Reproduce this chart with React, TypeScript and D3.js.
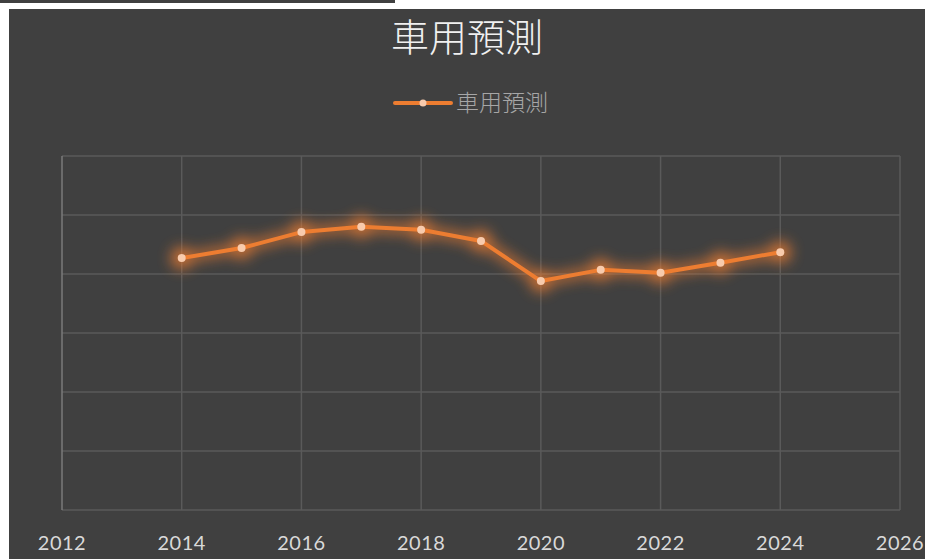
import React from "react";
import * as d3 from "d3";

// 車用預測 — yearly forecast values (y axis labels hidden)
const years = [2014, 2015, 2016, 2017, 2018, 2019, 2020, 2021, 2022, 2023, 2024];
const forecast = [427, 444, 471, 480, 475, 456, 388, 407, 402, 419, 437];
const xTicks = [2012, 2014, 2016, 2018, 2020, 2022, 2024, 2026];
const yTicks = [0, 100, 200, 300, 400, 500, 600];
const title = "車用預測";

const W = 925;
const H = 559;
const plot = { left: 62, right: 900, top: 156, bottom: 510 };

const App = () => {
  const x = d3.scaleLinear().domain([2012, 2026]).range([plot.left, plot.right]);
  const y = d3.scaleLinear().domain([0, 600]).range([plot.bottom, plot.top]);
  const pts: [number, number][] = years.map((yr, i) => [yr, forecast[i]]);
  const line = d3
    .line<[number, number]>()
    .x(d => x(d[0]))
    .y(d => y(d[1]));
  const path = line(pts) || "";

  return (
    <svg width={W} height={H} style={{ position: "absolute", left: 0, top: 0 }}>
      <defs>
        <filter id="glow" x="-20%" y="-80%" width="140%" height="260%">
          <feGaussianBlur stdDeviation="7" />
        </filter>
      </defs>
      <rect width={W} height={H} fill="#ffffff" />
      <rect x={0} y={0} width={395} height={3} fill="#404040" />
      <rect x={9} y={9} width={W - 9} height={H - 9} fill="#404040" />

      <text
        x={467}
        y={51}
        textAnchor="middle"
        fontFamily="'Noto Sans CJK TC', sans-serif"
        fontSize="38"
        fontWeight="300"
        fill="#f0f0f0"
      >
        {title}
      </text>

      {/* legend */}
      <g transform="translate(395,103)">
        <line x1={0} x2={56} y1={0} y2={0} stroke="#ED7D31" strokeWidth={4} strokeLinecap="round" />
        <circle cx={28} cy={0} r={3.5} fill="#F8CBAD" />
        <text
          x={61}
          y={8}
          fontFamily="'Noto Sans CJK TC', sans-serif"
          fontSize="23"
          fontWeight="300"
          fill="#a6a6a6"
        >
          {title}
        </text>
      </g>

      {/* grid */}
      {yTicks.map(t => (
        <line
          key={"h" + t}
          x1={plot.left}
          x2={plot.right}
          y1={y(t)}
          y2={y(t)}
          stroke="#5a5a5a"
          strokeWidth={1.5}
        />
      ))}
      {xTicks.map(t => (
        <line
          key={"v" + t}
          x1={x(t)}
          x2={x(t)}
          y1={plot.top}
          y2={plot.bottom}
          stroke={t === 2012 ? "#7a7a7a" : "#5a5a5a"}
          strokeWidth={1.5}
        />
      ))}

      {xTicks.map(t => (
        <text
          key={"l" + t}
          x={x(t)}
          y={550}
          textAnchor="middle"
          fontFamily="Lato, 'Open Sans', sans-serif"
          fontSize="20"
          letterSpacing="0.5"
          fill="#d9d9d9"
        >
          {t}
        </text>
      ))}

      {/* glow */}
      <g filter="url(#glow)" opacity={0.8}>
        <path d={path} fill="none" stroke="#ED7D31" strokeWidth={9} strokeLinejoin="round" />
        {pts.map((d, i) => (
          <circle key={i} cx={x(d[0])} cy={y(d[1])} r={11} fill="#ED7D31" />
        ))}
      </g>

      <path d={path} fill="none" stroke="#ED7D31" strokeWidth={4} strokeLinejoin="round" />
      {pts.map((d, i) => (
        <circle key={i} cx={x(d[0])} cy={y(d[1])} r={4} fill="#F8CBAD" />
      ))}
    </svg>
  );
};

export default App;
